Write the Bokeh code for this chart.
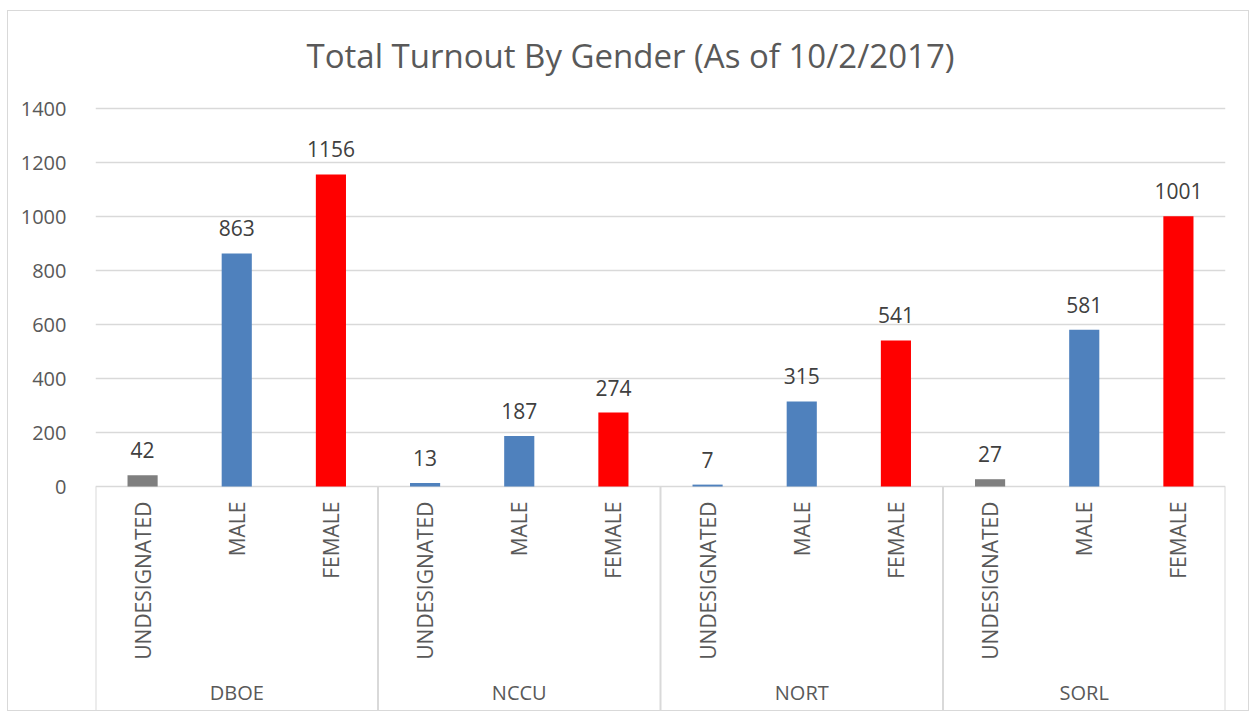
import math
from bokeh.plotting import figure
from bokeh.models import FactorRange, Range1d, FixedTicker, ColumnDataSource
from bokeh.core.properties import value
from bokeh.embed import file_html
from bokeh.resources import INLINE

# ---- data ----
groups = ["DBOE", "NCCU", "NORT", "SORL"]
genders = ["UNDESIGNATED", "MALE", "FEMALE"]
dboe = [42, 863, 1156]
nccu = [13, 187, 274]
nort = [7, 315, 541]
sorl = [27, 581, 1001]
undesignated_colors = ["#7f7f7f", "#4f81bd", "#4f81bd", "#7f7f7f"]
male_color = "#4f81bd"
female_color = "#ff0000"
y_ticks = [0, 200, 400, 600, 800, 1000, 1200, 1400]
title_text = "Total Turnout By Gender (As of 10/2/2017)"

# ---- layout constants ----
W, H = 1242, 701
LEFT, FRAME_W = 87, 1130
PX = 0.27            # pixels per unit
ZERO_PX = 475        # pixels from frame top to y=0
y_top = ZERO_PX / PX
y_bot = -(H - ZERO_PX) / PX

FONT = value("Open Sans")
GRID = "#d9d9d9"
TXT = "#595959"

factors = [(g, s) for g in groups for s in genders]
counts = dboe + nccu + nort + sorl
colors = []
for i in range(len(groups)):
    colors += [undesignated_colors[i], male_color, female_color]

src = ColumnDataSource(dict(x=factors, top=counts, color=colors,
                            label=[str(c) for c in counts],
                            sub=[s for g in groups for s in genders]))

p = figure(width=W, height=H, output_backend="svg", toolbar_location=None,
           x_range=FactorRange(*factors, range_padding=0, group_padding=0,
                               subgroup_padding=0, factor_padding=0),
           y_range=Range1d(y_bot, y_top),
           min_border_left=LEFT, min_border_right=W - LEFT - FRAME_W,
           min_border_top=0, min_border_bottom=0)
p.styles = {"border": "1px solid #d9d9d9", "margin-left": "7px", "margin-top": "10px"}
p.outline_line_color = None
p.xaxis.visible = False
p.xgrid.grid_line_color = None
p.ygrid.ticker = FixedTicker(ticks=y_ticks)
p.ygrid.grid_line_color = GRID
p.ygrid.grid_line_width = 1.5
p.yaxis.ticker = FixedTicker(ticks=y_ticks)
p.yaxis.axis_line_color = None
p.yaxis.major_tick_line_color = None
p.yaxis.minor_tick_line_color = None
p.yaxis.major_label_standoff = 23
p.yaxis.major_label_text_font = "Open Sans"
p.yaxis.major_label_text_font_size = "20px"
p.yaxis.major_label_text_color = TXT

# bars
p.vbar(x="x", top="top", width=0.32, fill_color="color", line_color=None, source=src)

# data labels
p.text(x="x", y="top", text="label", source=src, text_align="center",
       text_baseline="middle", y_offset=-25, text_font=FONT,
       text_font_size="21px", text_color="#404040")

# category labels (rotated)
cat_y = -(501 - 486) / PX
p.text(x="x", y=cat_y, text="sub", source=src, angle=math.pi / 2,
       text_align="right", text_baseline="middle", text_font=FONT,
       text_font_size="21px", text_color=TXT)

# group labels
grp_y = -(692 - 486) / PX
p.text(x=[(g, genders[1]) for g in groups], y=[grp_y] * len(groups), text=groups,
       text_align="center", text_baseline="middle", text_font=FONT,
       text_font_size="20px", text_color=TXT)

# group separators
n = len(genders)
bounds = [i * n for i in range(len(groups) + 1)]
p.segment(x0=bounds, y0=[0] * len(bounds), x1=bounds, y1=[y_bot] * len(bounds),
          line_color=GRID, line_width=2)

# title (centred on the chart area, slightly left of the plot centre)
p.text(x=[len(factors) / 2 - 30 / (FRAME_W / len(factors))], y=[(486 - 55) / PX],
       text=[title_text], text_align="center", text_baseline="middle",
       text_font=FONT, text_font_size="33px", text_color=TXT)

open("out.html", "w").write(file_html(p, INLINE))
